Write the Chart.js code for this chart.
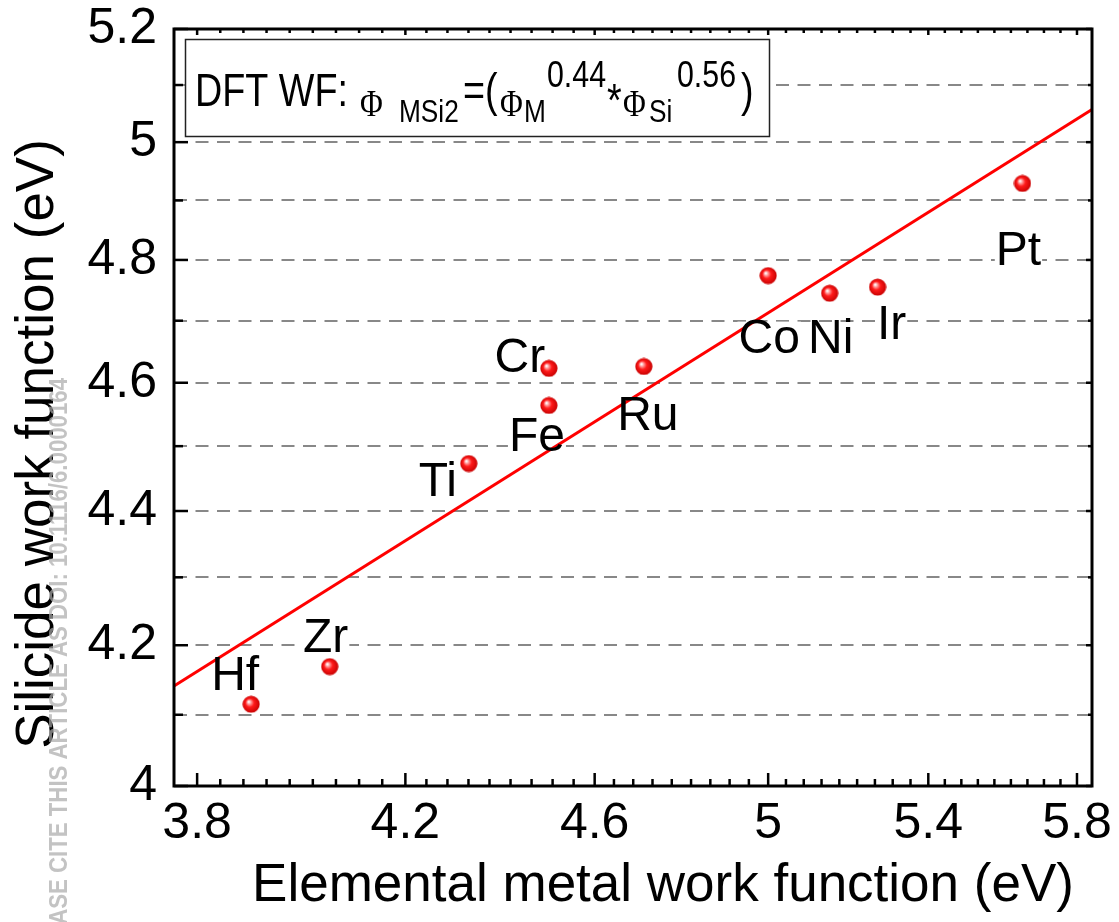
<!DOCTYPE html>
<html><head><meta charset="utf-8">
<script src="https://cdn.jsdelivr.net/npm/chart.js@4.4.1/dist/chart.umd.min.js"></script>
<style>html,body{margin:0;padding:0;background:#fff}</style>
</head><body>
<canvas id="c" width="1119" height="922"></canvas>
<script>
// ---------- data ----------
const elements    = ['Hf', 'Zr', 'Ti', 'Cr', 'Fe', 'Ru', 'Co', 'Ni', 'Ir', 'Pt'];
const metalWF     = [3.90, 4.05, 4.33, 4.50, 4.50, 4.71, 5.00, 5.15, 5.27, 5.65];
const silicideWF  = [4.115, 4.169, 4.473, 4.623, 4.564, 4.626, 4.774, 4.745, 4.755, 4.929];
const fitX        = [3.758, 5.842];
const fitY        = [4.141, 5.057];
const xTicks      = [3.8, 4.2, 4.6, 5.0, 5.4, 5.8];
const xTickLabels = ['3.8', '4.2', '4.6', '5', '5.4', '5.8'];
const yTicks      = [4.0, 4.2, 4.4, 4.6, 4.8, 5.0, 5.2];
const yTickLabels = ['4', '4.2', '4.4', '4.6', '4.8', '5', '5.2'];
const yMinorTicks = [4.1, 4.3, 4.5, 4.7, 4.9, 5.1];
const xRange      = [3.758, 5.842];
const yRange      = [4.0, 5.2];
const xTitle = 'Elemental metal work function (eV)';
const yTitle = 'Silicide work function (eV)';
const watermark = 'PLEASE CITE THIS ARTICLE AS DOI: 10.1116/6.0000164';

// ---------- layout / style (not data) ----------
const SANS = "'Liberation Sans', Arial, sans-serif";
const SERIF = "'Liberation Serif', 'Times New Roman', serif";
const labelOffsets = [[-16,-27],[-4,-28],[-31,19],[-29,-10],[-12,32],[4,50],[1,64],[1,47],[14,39],[-4,68]];
const boxRuns = [
  {t:'DFT WF:', x:195, y:106, f:'46px '+SANS},
  {t:'\u03A6',  x:360, y:116, f:'38px '+SERIF},
  {t:'MSi2',    x:399, y:122, f:'32px '+SANS},
  {t:'=(',      x:463, y:106, f:'46px '+SANS},
  {t:'\u03A6',  x:500, y:116, f:'38px '+SERIF},
  {t:'M',       x:524, y:122, f:'32px '+SANS},
  {t:'0.44',    x:547, y:87,  f:'37px '+SANS},
  {t:'*',       x:607, y:116, f:'46px '+SANS},
  {t:'\u03A6',  x:623, y:116, f:'38px '+SERIF},
  {t:'Si',      x:649, y:122, f:'32px '+SANS},
  {t:'0.56',    x:677, y:87,  f:'37px '+SANS},
  {t:')',       x:741, y:106, f:'46px '+SANS}
];

function geomSteps(a, b, n) { const out = []; for (let k = 1; k < n; k++) out.push(a * Math.pow(b / a, k / n)); return out; }

// sphere marker
const sphere = document.createElement('canvas');
sphere.width = 18; sphere.height = 18;
(function(){
  const g = sphere.getContext('2d');
  const grad = g.createRadialGradient(6.5, 6.5, 0.5, 9, 9, 9);
  grad.addColorStop(0, '#ffffff');
  grad.addColorStop(0.18, '#ff9a9a');
  grad.addColorStop(0.45, '#ff1a1a');
  grad.addColorStop(1, '#c40000');
  g.fillStyle = grad;
  g.beginPath(); g.arc(9, 9, 8.6, 0, Math.PI * 2); g.fill();
})();

const yAllTicks = yTicks.concat(yMinorTicks).sort((a, b) => a - b);

const deco = {
  id: 'deco',
  beforeDatasetsDraw(chart) {
    const ctx = chart.ctx, xs = chart.scales.x, ys = chart.scales.y;
    ctx.save();
    ctx.font = '48px ' + SANS;
    ctx.fillStyle = '#fff';
    elements.forEach((el, i) => {
      const px = xs.getPixelForValue(metalWF[i]) + labelOffsets[i][0];
      const py = ys.getPixelForValue(silicideWF[i]) + labelOffsets[i][1];
      const w = ctx.measureText(el).width;
      ctx.fillRect(px - w / 2 - 1, py - 18, w + 2, 36);
    });
    ctx.restore();
  },
  afterDatasetsDraw(chart) {
    const ctx = chart.ctx, xs = chart.scales.x, ys = chart.scales.y;
    ctx.save();
    ctx.font = '48px ' + SANS;
    ctx.fillStyle = '#000';
    ctx.textAlign = 'center';
    ctx.textBaseline = 'middle';
    elements.forEach((el, i) => {
      const px = xs.getPixelForValue(metalWF[i]) + labelOffsets[i][0];
      const py = ys.getPixelForValue(silicideWF[i]) + labelOffsets[i][1];
      ctx.fillText(el, px, py);
    });
    ctx.restore();
  },
  afterDraw(chart) {
    const ctx = chart.ctx, xs = chart.scales.x, ys = chart.scales.y;
    const {left, right, top, bottom} = chart.chartArea;
    ctx.save();
    // formula box
    ctx.fillStyle = '#fff';
    ctx.fillRect(185, 39, 585, 98);
    ctx.strokeStyle = '#222'; ctx.lineWidth = 1.5;
    ctx.strokeRect(185.5, 39.5, 584, 97);
    ctx.fillStyle = '#000';
    ctx.textBaseline = 'alphabetic'; ctx.textAlign = 'left';
    boxRuns.forEach(r => {
      ctx.save();
      ctx.font = r.f;
      ctx.translate(r.x, r.y);
      ctx.scale(0.82, 1);
      ctx.fillText(r.t, 0, 0);
      ctx.restore();
    });
    // frame
    ctx.strokeStyle = '#000'; ctx.lineWidth = 3;
    ctx.strokeRect(left, top, right - left, bottom - top);
    // ticks
    ctx.lineWidth = 2.5;
    const seg = (x1, y1, x2, y2) => { ctx.beginPath(); ctx.moveTo(x1, y1); ctx.lineTo(x2, y2); ctx.stroke(); };
    xTicks.forEach(v => { const p = xs.getPixelForValue(v); seg(p, bottom, p, bottom - 13); seg(p, top, p, top + 6); });
    for (let i = 0; i < xTicks.length - 1; i++) {
      geomSteps(xTicks[i], xTicks[i + 1], 9).forEach(v => { const p = xs.getPixelForValue(v); seg(p, bottom, p, bottom - 7); seg(p, top, p, top + 4); });
    }
    yTicks.forEach(v => { const p = ys.getPixelForValue(v); seg(left, p, left + 14, p); seg(right, p, right - 6, p); });
    yMinorTicks.forEach(v => { const p = ys.getPixelForValue(v); seg(left, p, left + 9, p); seg(right, p, right - 4, p); });
    // axis titles
    ctx.fillStyle = '#000';
    ctx.font = '53px ' + SANS;
    ctx.textAlign = 'center'; ctx.textBaseline = 'alphabetic';
    ctx.fillText(xTitle, 663, 901);
    ctx.save();
    ctx.translate(53, 444); ctx.rotate(-Math.PI / 2);
    ctx.fillText(yTitle, 0, 0);
    ctx.restore();
    // watermark
    ctx.save();
    ctx.fillStyle = 'rgba(170,170,170,0.7)';
    ctx.font = 'bold 26px ' + SANS;
    const w = ctx.measureText(watermark).width;
    ctx.translate(67, 378); ctx.rotate(-Math.PI / 2);
    ctx.scale(590 / w, 1);
    ctx.textAlign = 'right';
    ctx.fillText(watermark, 0, 0);
    ctx.restore();
    ctx.restore();
  }
};

new Chart(document.getElementById('c'), {
  type: 'scatter',
  data: {
    datasets: [
      {
        label: 'fit',
        data: fitX.map((x, i) => ({x, y: fitY[i]})),
        showLine: true,
        borderColor: '#ff0000',
        borderWidth: 3,
        pointRadius: 0,
        fill: false,
        order: 2
      },
      {
        label: 'DFT',
        data: metalWF.map((x, i) => ({x, y: silicideWF[i]})),
        showLine: false,
        pointStyle: sphere,
        pointRadius: 9,
        order: 1
      }
    ]
  },
  options: {
    responsive: false,
    animation: false,
    events: [],
    layout: {padding: {top: 29, right: 27, left: 0, bottom: 0}},
    plugins: {legend: {display: false}, tooltip: {enabled: false}},
    scales: {
      x: {
        type: 'logarithmic',
        min: xRange[0], max: xRange[1],
        bounds: 'data',
        afterBuildTicks: s => { s.ticks = xTicks.map(v => ({value: v})); },
        afterFit: s => { s.height = 136; s.paddingLeft = 0; s.paddingRight = 0; },
        grid: {display: false, drawTicks: false},
        border: {display: false},
        ticks: {
          font: {family: SANS, size: 50, lineHeight: 1},
          color: '#000', padding: 13, maxRotation: 0, minRotation: 0, autoSkip: false,
          callback: (v, i) => xTickLabels[i]
        },
        title: {display: false}
      },
      y: {
        type: 'logarithmic',
        min: yRange[0], max: yRange[1],
        bounds: 'data',
        afterBuildTicks: s => { s.ticks = yAllTicks.map(v => ({value: v})); },
        afterFit: s => { s.width = 174; s.paddingTop = 0; s.paddingBottom = 0; },
        grid: {
          drawTicks: false,
          lineWidth: 2,
          color: c => (c.index === 0 || c.index === yAllTicks.length - 1) ? 'rgba(0,0,0,0)' : '#888888'
        },
        border: {display: false, dash: [13, 8.5]},
        ticks: {
          font: {family: SANS, size: 50, lineHeight: 1},
          color: '#000', padding: 17, autoSkip: false,
          callback: (v) => { const k = yTicks.findIndex(t => Math.abs(t - v) < 1e-9); return k >= 0 ? yTickLabels[k] : ''; }
        },
        title: {display: false}
      }
    }
  },
  plugins: [deco]
});
</script>
</body></html>
